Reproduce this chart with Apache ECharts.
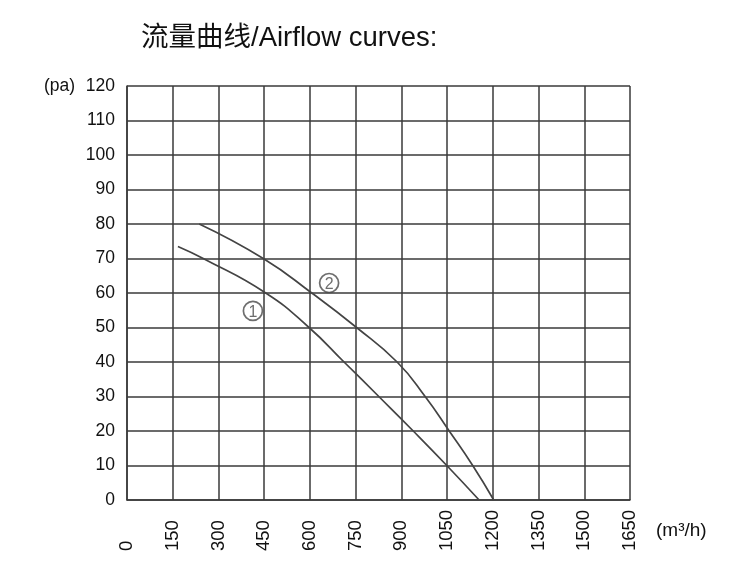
<!DOCTYPE html>
<html><head><meta charset="utf-8">
<script src="https://cdn.jsdelivr.net/npm/echarts@6/dist/echarts.min.js"></script>
<style>html,body{margin:0;padding:0;background:#fff}#c{width:750px;height:579px}</style>
</head><body><div id="c"></div>
<script>
var titleText = "流量曲线/Airflow curves:";
var xTicks = [0,150,300,450,600,750,900,1050,1200,1350,1500,1650];
var yTicks = [0,10,20,30,40,50,60,70,80,90,100,110,120];
var curve1 = [[167,73.5],[250,70],[455,60],[597,50],[712,40],[826,30],[939,20],[1049,10],[1155,0]];
var curve2 = [[237,80],[447,70],[606,60],[753,50],[886,40],[978,30],[1057,20],[1134,10],[1203,0]];
var markers = [[413,54.8,"1"],[663,62.9,"2"]];

var chart = echarts.init(document.getElementById('c'));
var gridColor = '#3a3a3a';
var sans = '"Liberation Sans",Arial,sans-serif';
chart.setOption({
  animation:false,
  backgroundColor:'#fff',
  title:{text:titleText,left:136,top:20,textStyle:{fontFamily:'"Liberation Sans","Noto Sans CJK SC",sans-serif',fontSize:27.5,fontWeight:'normal',color:'#111'}},
  grid:{left:127,right:120,top:86,bottom:79},
  xAxis:{type:'value',min:xTicks[0],max:xTicks[xTicks.length-1],interval:xTicks[1]-xTicks[0],
    name:'(m³/h)',nameLocation:'end',nameGap:26,nameTextStyle:{fontFamily:sans,fontSize:19,color:'#111',verticalAlign:'top',padding:[21,0,0,0]},
    axisLine:{show:true,lineStyle:{color:gridColor,width:1.5}},axisTick:{show:false},
    axisLabel:{rotate:90,align:'left',margin:51,formatter:function(v){return String(v);},fontFamily:sans,fontSize:18.5,color:'#111'},
    splitLine:{show:true,lineStyle:{color:gridColor,width:1.5}}},
  yAxis:{type:'value',min:yTicks[0],max:yTicks[yTicks.length-1],interval:yTicks[1]-yTicks[0],
    name:'(pa)',nameLocation:'end',nameGap:0,nameTextStyle:{fontFamily:sans,fontSize:17.5,color:'#111',align:'right',verticalAlign:'middle',padding:[0,52,6,0]},
    axisLine:{show:true,lineStyle:{color:gridColor,width:1.5}},axisTick:{show:false},
    axisLabel:{margin:12,fontFamily:sans,fontSize:17.5,color:'#111'},
    splitLine:{show:true,lineStyle:{color:gridColor,width:1.5}}},
  series:[
    {type:'line',data:curve1,smooth:0.5,symbol:'none',lineStyle:{color:'#444',width:1.7}},
    {type:'line',data:curve2,smooth:0.5,symbol:'none',lineStyle:{color:'#444',width:1.7}},
    {type:'scatter',data:markers,symbol:'circle',symbolSize:19,itemStyle:{color:'rgba(0,0,0,0)',borderColor:'#4a4a4a',borderWidth:1.7},
     label:{show:true,position:'inside',offset:[0,1.5],formatter:function(p){return p.data[2];},fontFamily:sans,fontSize:16,color:'#4a4a4a'}}
  ]
});
</script></body></html>
